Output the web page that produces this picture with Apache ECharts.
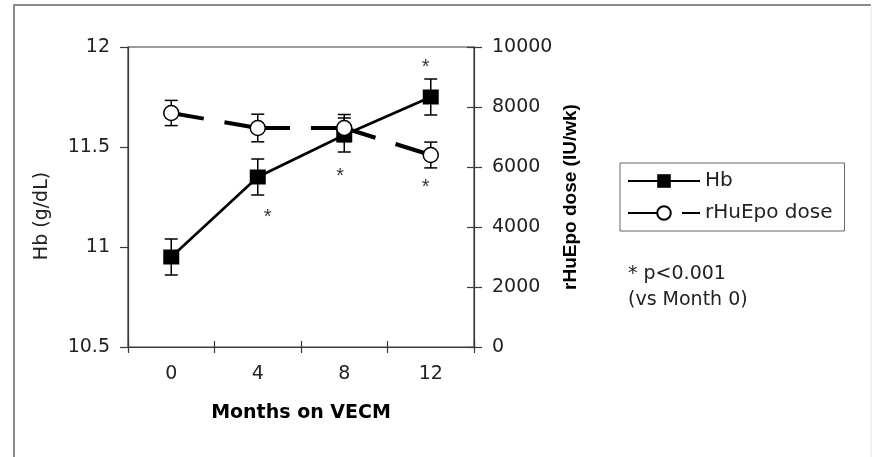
<!DOCTYPE html>
<html>
<head>
<meta charset="utf-8">
<script src="https://cdn.jsdelivr.net/npm/echarts@6/dist/echarts.min.js"></script>
<style>
html,body{margin:0;padding:0;background:#fff;}
#chart{width:875px;height:457px;}
</style>
</head>
<body>
<div id="chart"></div>
<script>
// ---- data ----
var months = ['0', '4', '8', '12'];
var hb = [10.95, 11.35, 11.56, 11.75];
var hbErr = [0.09, 0.09, 0.085, 0.09];
var epo = [7800, 7300, 7300, 6400];
var epoErr = [420, 460, 450, 430];
// significance markers (category index, position on Hb scale)
var starIdx = [1, 3, 2, 3];
var starHb = [11.17, 11.92, 11.375, 11.32];
var hbTicks = [10.5, 11, 11.5, 12];
var epoTicks = [0, 2000, 4000, 6000, 8000, 10000];

var FONT = 'DejaVu Sans, sans-serif';
var FONT2 = 'Liberation Sans, Arial, sans-serif';
var AX = '#3a3a3a';

function errSeries(vals, errs, yIdx) {
  return {
    type: 'custom',
    yAxisIndex: yIdx,
    z: 1,
    silent: true,
    data: vals.map(function (v, i) { return [i, v - errs[i], v + errs[i]]; }),
    renderItem: function (params, api) {
      var lo = api.coord([api.value(0), api.value(1)]);
      var hi = api.coord([api.value(0), api.value(2)]);
      var cw = 6.5;
      var st = { stroke: '#000', lineWidth: 1.5 };
      return {
        type: 'group',
        children: [
          { type: 'line', shape: { x1: lo[0], y1: lo[1], x2: hi[0], y2: hi[1] }, style: st },
          { type: 'line', shape: { x1: lo[0] - cw, y1: lo[1], x2: lo[0] + cw, y2: lo[1] }, style: st },
          { type: 'line', shape: { x1: hi[0] - cw, y1: hi[1], x2: hi[0] + cw, y2: hi[1] }, style: st }
        ]
      };
    }
  };
}

var starOffsets = [[10, 4], [-5, 4], [-4, 4], [-5, 4]];

var chart = echarts.init(document.getElementById('chart'));
chart.setOption({
  animation: false,
  backgroundColor: '#fff',
  textStyle: { fontFamily: FONT },
  grid: { left: 128, right: 401, top: 47, bottom: 110, show: true, borderColor: AX, borderWidth: 1.2 },
  xAxis: [{
    type: 'category',
    data: months,
    boundaryGap: true,
    name: 'Months on VECM',
    nameLocation: 'middle',
    nameGap: 57,
    nameTextStyle: { fontFamily: FONT, fontSize: 19, fontWeight: 'bold', color: '#000' },
    axisLine: { lineStyle: { color: AX, width: 1.2 } },
    axisTick: { show: true, length: 6, lineStyle: { color: AX, width: 1.2 } },
    axisLabel: { fontFamily: FONT, fontSize: 19, color: '#222', margin: 18 }
  }, {
    type: 'category',
    data: months,
    position: 'bottom',
    boundaryGap: true,
    axisLine: { show: false },
    axisTick: { show: true, inside: true, length: 6, lineStyle: { color: AX, width: 1.2 } },
    axisLabel: { show: false }
  }],
  yAxis: [{
    type: 'value',
    position: 'left',
    min: 10.5, max: 12, interval: 0.5,
    name: 'Hb (g/dL)',
    nameLocation: 'middle',
    nameRotate: 90,
    nameGap: 76,
    nameTextStyle: { fontFamily: FONT, fontSize: 19, color: '#222', padding: [0, 38, 0, 0] },
    axisLine: { show: true, lineStyle: { color: AX, width: 1.2 } },
    axisTick: { show: true, length: 8, lineStyle: { color: AX, width: 1.2 } },
    axisLabel: { fontFamily: FONT, fontSize: 19, color: '#222', margin: 18,
      formatter: function (v) { return hbTicks.indexOf(v) >= 0 ? String(v) : ''; } },
    splitLine: { show: false }
  }, {
    type: 'value',
    position: 'right',
    min: 0, max: 10000, interval: 2000,
    name: 'rHuEpo dose (IU/wk)',
    nameLocation: 'middle',
    nameRotate: 90,
    nameGap: 87,
    nameTextStyle: { fontFamily: FONT2, fontSize: 19, fontWeight: 'bold', color: '#000' },
    axisLine: { show: true, lineStyle: { color: AX, width: 1.2 } },
    axisTick: { show: true, length: 8, lineStyle: { color: AX, width: 1.2 } },
    axisLabel: { fontFamily: FONT, fontSize: 19, color: '#222', margin: 18,
      formatter: function (v) { return epoTicks.indexOf(v) >= 0 ? String(v) : ''; } },
    splitLine: { show: false }
  }, {
    type: 'value',
    position: 'right',
    min: 0, max: 10000, interval: 2000,
    axisLine: { show: false },
    axisTick: { show: true, inside: true, length: 7, lineStyle: { color: AX, width: 1.2 } },
    axisLabel: { show: false },
    splitLine: { show: false }
  }],
  legend: {
    orient: 'vertical',
    left: 620, top: 163,
    padding: [8, 12, 8, 7],
    itemGap: 12,
    itemWidth: 72,
    itemHeight: 17,
    borderColor: '#666',
    borderWidth: 1,
    textStyle: { fontFamily: FONT, fontSize: 20, color: '#222' },
    data: ['Hb', 'rHuEpo dose']
  },
  series: [
    errSeries(hb, hbErr, 0),
    errSeries(epo, epoErr, 1),
    {
      name: 'Hb',
      type: 'line',
      yAxisIndex: 0,
      z: 2,
      data: hb,
      symbol: 'rect',
      symbolSize: [16, 15],
      itemStyle: { color: '#000', borderColor: '#000', borderWidth: 0 },
      lineStyle: { color: '#000', width: 2.6 }
    },
    {
      name: 'rHuEpo dose',
      type: 'line',
      yAxisIndex: 1,
      z: 3,
      data: epo,
      symbol: 'circle',
      symbolSize: 15,
      itemStyle: { color: '#fff', borderColor: '#000', borderWidth: 1.5 },
      lineStyle: { color: '#000', width: 4, type: [66, 21], dashOffset: 33 }
    },
    {
      name: 'stars',
      type: 'scatter',
      yAxisIndex: 0,
      z: 4,
      silent: true,
      symbolSize: 0,
      data: starIdx.map(function (c, i) {
        return { value: [c, starHb[i]], label: { offset: starOffsets[i] } };
      }),
      label: { show: true, position: 'inside', formatter: '*', fontFamily: FONT2, fontSize: 20, color: '#000' }
    }
  ],
  graphic: [
    { type: 'line', shape: { x1: 13, y1: 5, x2: 871, y2: 5 }, style: { stroke: '#8a8a8a', lineWidth: 2 }, silent: true },
    { type: 'line', shape: { x1: 14, y1: 5, x2: 14, y2: 457 }, style: { stroke: '#8a8a8a', lineWidth: 2 }, silent: true },
    { type: 'line', shape: { x1: 871, y1: 5, x2: 871, y2: 457 }, style: { stroke: '#e6e6e6', lineWidth: 1 }, silent: true },
    { type: 'text', left: 628, top: 265, style: { text: '* p<0.001', font: '19px ' + FONT, fill: '#222' }, silent: true },
    { type: 'text', left: 628, top: 291, style: { text: '(vs Month 0)', font: '19px ' + FONT, fill: '#222' }, silent: true }
  ]
});
</script>
</body>
</html>
